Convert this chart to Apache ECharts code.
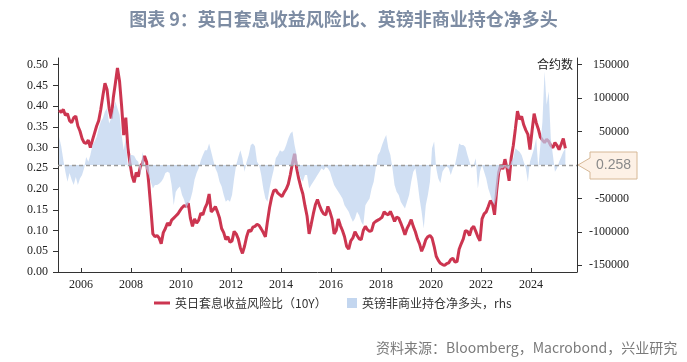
<!DOCTYPE html>
<html>
<head>
<meta charset="utf-8">
<script src="https://cdn.jsdelivr.net/npm/echarts@6/dist/echarts.min.js"></script>
<style>html,body{margin:0;padding:0;background:#fff}#c{width:687px;height:362px}</style>
</head>
<body>
<div id="c"></div>
<script>
// ---- data (monthly, first value = Feb 2005) ----
const startYear = 2005;
const startMonth = 2;
// 英日套息收益风险比（10Y）
const ratio = [
  0.390,0.385,0.392,0.378,0.382,0.365,0.360,0.372,0.376,0.352,0.340,
  0.322,0.312,0.310,0.318,0.300,0.318,0.335,0.352,0.365,0.392,0.425,0.455,
  0.440,0.395,0.370,0.420,0.455,0.492,0.460,0.400,0.330,0.372,0.300,0.262,
  0.232,0.216,0.240,0.230,0.255,0.262,0.280,0.265,0.215,0.155,0.092,0.085,
  0.088,0.082,0.068,0.095,0.105,0.118,0.112,0.125,0.130,0.135,0.140,0.148,
  0.155,0.160,0.158,0.166,0.130,0.110,0.128,0.118,0.125,0.142,0.138,0.154,
  0.165,0.188,0.145,0.150,0.158,0.145,0.130,0.105,0.095,0.078,0.085,0.072,
  0.075,0.098,0.092,0.080,0.058,0.045,0.062,0.085,0.101,0.098,0.108,0.110,
  0.115,0.112,0.104,0.095,0.085,0.122,0.155,0.180,0.196,0.198,0.190,0.186,
  0.182,0.192,0.200,0.212,0.235,0.262,0.285,0.250,0.225,0.205,0.188,0.160,
  0.135,0.092,0.115,0.140,0.162,0.175,0.160,0.148,0.140,0.138,0.158,0.145,
  0.128,0.092,0.100,0.128,0.112,0.100,0.085,0.062,0.055,0.075,0.082,0.097,
  0.088,0.080,0.078,0.100,0.110,0.102,0.098,0.100,0.118,0.122,0.125,0.128,
  0.132,0.145,0.140,0.138,0.146,0.135,0.122,0.132,0.130,0.118,0.105,0.090,
  0.105,0.115,0.126,0.110,0.097,0.080,0.068,0.050,0.062,0.078,0.085,0.088,
  0.082,0.062,0.038,0.028,0.021,0.018,0.016,0.020,0.022,0.030,0.033,0.024,
  0.025,0.055,0.068,0.080,0.100,0.098,0.088,0.105,0.110,0.098,0.085,0.075,
  0.128,0.140,0.145,0.158,0.172,0.165,0.138,0.195,0.240,0.258,0.248,0.272,
  0.250,0.220,0.275,0.305,0.345,0.388,0.368,0.375,0.355,0.342,0.332,0.295,
  0.340,0.382,0.360,0.345,0.325,0.318,0.312,0.320,0.315,0.305,0.300,0.312,
  0.305,0.295,0.308,0.322,0.298
];
// 英镑非商业持仓净多头（合约数）
const positions = [
  42000,28000,8000,-10000,-25000,-12000,-22000,-30000,-18000,-30000,-20000,
  -15000,-5000,12000,5000,15000,30000,35000,42000,55000,65000,70000,80000,
  85000,62000,70000,82000,95000,85000,75000,45000,22000,40000,-5000,15000,
  15000,14000,8000,5000,-15000,20000,0,-8000,-15000,-25000,-35000,-30000,
  -30000,-28000,-25000,-20000,-12000,-10000,-12000,-30000,-60000,-40000,-35000,-32000,
  -45000,-52000,-65000,-58000,-52000,-40000,-22000,-12000,-5000,7000,15000,22000,
  22000,32000,20000,7000,-5000,-12000,-25000,-32000,-45000,-55000,-52000,-55000,
  -45000,-20000,0,12000,22000,10000,-10000,5000,15000,30000,32000,28000,
  5000,0,-15000,-35000,-50000,-55000,-35000,-20000,-7000,10000,15000,22000,
  20000,22000,30000,40000,47000,50000,30000,15000,-10000,-20000,-25000,-15000,
  -15000,-35000,-30000,-25000,-20000,-15000,-10000,-5000,-8000,-3000,-5000,-10000,
  -20000,-30000,-35000,-40000,-45000,-50000,-60000,-65000,-70000,-78000,-85000,-80000,
  -70000,-75000,-85000,-90000,-60000,-55000,-50000,-35000,-25000,-5000,15000,20000,
  30000,38000,45000,25000,15000,-5000,-30000,-40000,-45000,-55000,-60000,-65000,
  -55000,-45000,-25000,-10000,-5000,-25000,-50000,-70000,-95000,-60000,-45000,-25000,
  25000,35000,-5000,-20000,-27000,-10000,-5000,-2000,-5000,-15000,-5000,0,
  15000,32000,30000,30000,27000,15000,5000,-5000,0,10000,-35000,-10000,
  0,-10000,-20000,-35000,-45000,-55000,-60000,-45000,-15000,-5000,-5000,-2000,
  -5000,-7000,5000,10000,25000,22000,20000,15000,5000,-5000,-25000,5000,
  15000,25000,40000,-5000,30000,65000,140000,90000,110000,40000,15000,-10000,
  -5000,5000,12000,20000,25000
];
const refLevel = 0.258;
const yearTicks = [2006,2008,2010,2012,2014,2016,2018,2020,2022,2024];
const leftTicks = [0,0.05,0.10,0.15,0.20,0.25,0.30,0.35,0.40,0.45,0.50];
const rightTicks = [-150000,-100000,-50000,50000,100000,150000];
const xMin = 2005.08, xMax = 2025.84;

const seriesNames = ['英日套息收益风险比（10Y）', '英镑非商业持仓净多头，rhs'];

function monthX(i) {
  const m = startMonth - 1 + i;
  const y = startYear + Math.floor(m / 12);
  const mo = m % 12;
  return y + (mo + 0.5) / 12;
}
const ratioData = ratio.map((v, i) => [monthX(i), v]);
const posData = positions.map((v, i) => [monthX(i), v]);

const serif = 'Liberation Serif';
const cjk = 'Noto Sans CJK SC';
const chart = echarts.init(document.getElementById('c'), null, {renderer: 'canvas'});
const axisColor = '#333';

chart.setOption({
  animation: false,
  backgroundColor: '#fff',
  title: {
    text: '图表 9：英日套息收益风险比、英镑非商业持仓净多头',
    left: 'center', top: 5,
    textStyle: {fontFamily: cjk, fontSize: 18, fontWeight: 'bold', color: '#7d8ca3'}
  },
  grid: {left: 58, right: 110, top: 58, bottom: 90},
  legend: [
    {data: [{name: seriesNames[0], icon: 'rect'}], left: 149, top: 292, itemWidth: 16, itemHeight: 3,
     textStyle: {fontFamily: cjk, fontSize: 12, color: '#333'}},
    {data: [{name: seriesNames[1], icon: 'rect'}], left: 342, top: 292, itemWidth: 10, itemHeight: 10,
     textStyle: {fontFamily: cjk, fontSize: 12, color: '#333'}}
  ],
  xAxis: {
    type: 'value', min: xMin, max: xMax,
    axisLine: {show: true, onZero: false, lineStyle: {color: axisColor}},
    axisTick: {show: true, inside: true, length: 4, customValues: yearTicks, lineStyle: {color: axisColor}},
    axisLabel: {customValues: yearTicks, formatter: v => String(Math.round(v)), margin: 7,
      fontFamily: serif, fontSize: 12, color: '#222'},
    splitLine: {show: false}
  },
  yAxis: [
    {
      type: 'value', min: 0, max: 0.516, position: 'left',
      axisLine: {show: true, lineStyle: {color: axisColor}},
      axisTick: {show: true, length: 5, customValues: leftTicks, lineStyle: {color: axisColor}},
      axisLabel: {customValues: leftTicks, formatter: v => v.toFixed(2), margin: 10,
        fontFamily: serif, fontSize: 12, color: '#222'},
      splitLine: {show: false}
    },
    {
      type: 'value', min: -160000, max: 160000, position: 'right',
      axisLine: {show: true, lineStyle: {color: axisColor}},
      axisTick: {show: true, length: 5, customValues: rightTicks, lineStyle: {color: axisColor}},
      axisLabel: {customValues: rightTicks, formatter: v => String(v), margin: 52, align: 'right',
        fontFamily: serif, fontSize: 12, color: '#222'},
      splitLine: {show: false}
    }
  ],
  series: [
    {
      name: seriesNames[0], type: 'line', data: ratioData, yAxisIndex: 0,
      showSymbol: false, symbol: 'none', z: 2,
      itemStyle: {color: '#cc3550'},
      lineStyle: {color: '#cc3550', width: 3}
    },
    {
      name: seriesNames[1], type: 'line', data: posData, yAxisIndex: 1,
      showSymbol: false, symbol: 'none', z: 3,
      itemStyle: {color: '#c3d6ef'},
      lineStyle: {width: 0, color: 'rgba(0,0,0,0)'},
      areaStyle: {color: '#bcd2ee', opacity: 0.7},
      markLine: {
        silent: true, symbol: ['none', 'none'], label: {show: false},
        lineStyle: {color: '#9a9a9a', type: [4, 3], width: 1.3},
        data: [{yAxis: 0}]
      }
    }
  ]
});

// Callout for the reference level, positioned from the axis scales
const yPx = chart.convertToPixel({yAxisIndex: 0}, refLevel);
const xPx = chart.convertToPixel({xAxisIndex: 0}, xMax);
const bx = xPx + 13, br = xPx + 60, bt = yPx - 13, bb = yPx + 14;
chart.setOption({
  graphic: [
    {
      type: 'polygon', z: 100,
      shape: {points: [[xPx + 1, yPx], [bx, yPx - 7], [bx, bt], [br, bt], [br, bb], [bx, bb], [bx, yPx + 7]]},
      style: {fill: '#fdf1e6', stroke: '#d6b896', lineWidth: 1}
    },
    {
      type: 'text', z: 101, x: (bx + br) / 2, y: yPx + 0.5,
      style: {text: refLevel.toFixed(3), fill: '#8a8a8a', font: '14px "Liberation Sans"', align: 'center', verticalAlign: 'middle'}
    },
    {
      type: 'text', z: 101, right: 114, top: 58,
      style: {text: '合约数', fill: '#222', font: '12px "Noto Sans CJK SC"'}
    },
    {
      type: 'text', z: 101, left: 376, top: 341,
      style: {text: '资料来源：Bloomberg，Macrobond，兴业研究', fill: '#7a7a7a', font: '14px "Noto Sans CJK SC"'}
    }
  ]
});
</script>
</body>
</html>
